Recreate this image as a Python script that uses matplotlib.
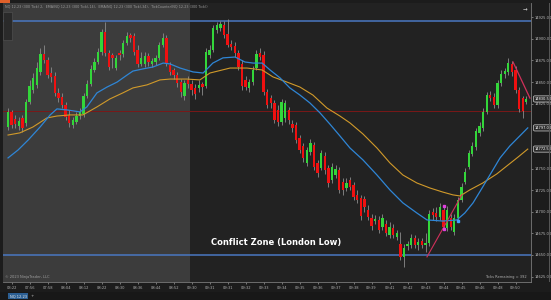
import matplotlib
matplotlib.use("Agg")
import matplotlib.pyplot as plt
from matplotlib.ticker import FixedLocator, FuncFormatter
from matplotlib.patches import Rectangle

# ---------------- data ----------------
opens = [14798, 14815.5, 14807.25, 14799.25, 14808.5, 14802.75, 14827, 14840.75, 14846.75, 14861.75,
         14882.5, 14875.5, 14860.5, 14857, 14837.5, 14832.75, 14823.5, 14812, 14800.5, 14803.75,
         14810.75, 14813, 14834, 14847.75, 14864, 14873.25, 14884.75, 14908, 14883.75, 14881.25,
         14866.25, 14883.75, 14882.5, 14895.25, 14904.5, 14903.25, 14887.25, 14871, 14871, 14880.25,
         14871, 14873.25, 14878, 14893, 14901, 14869.75, 14864, 14858.25, 14850, 14834,
         14852.5, 14847.75, 14843.25, 14843.25, 14847.75, 14845.5, 14881.25, 14887.25, 14910.25, 14912.5,
         14916, 14905.75, 14894, 14891.75, 14883.75, 14871, 14852.5, 14843.25, 14850, 14866.25,
         14883.75, 14881.25, 14838.5, 14831.5, 14825.75, 14817.75, 14803.75, 14808.5, 14817.75, 14801.5,
         14800.5, 14785.25, 14776, 14756.5, 14769.25, 14777.25, 14756.5, 14750.5, 14764.5, 14750.5,
         14736.75, 14742.5, 14748.25, 14734.5, 14727.5, 14736.75, 14731, 14719.5, 14716, 14714.75,
         14702, 14692.75, 14689.25, 14690.5, 14682.25, 14685.75, 14673, 14681.25, 14670.75, 14662.75,
         14647.75, 14660.5, 14661.5, 14669.75, 14661.5, 14666.25, 14661.5, 14663.75, 14699.75, 14698.5,
         14694, 14702, 14681.25, 14692.75, 14676.5, 14692.75, 14713.5, 14734.5, 14751.75, 14766.75,
         14775, 14791.25, 14797, 14815.5, 14835, 14832.75, 14823.5, 14849, 14859.5, 14861.75,
         14871, 14864, 14840.75, 14831.5, 14827]
highs = [14820, 14817.75, 14812, 14809.75, 14812, 14830.5, 14852.5, 14860.5, 14873.25, 14889.5,
         14893, 14879, 14867.5, 14861.75, 14843.25, 14837.5, 14827, 14817.75, 14809.75, 14815.5,
         14820, 14837.5, 14852.5, 14869.75, 14878, 14889.5, 14911.5, 14919.5, 14887.25, 14883.75,
         14881.25, 14887.25, 14898.75, 14908, 14906.75, 14906.75, 14893, 14884.75, 14884.75, 14883.75,
         14878, 14881.25, 14896.5, 14906.75, 14904.5, 14873.25, 14866.25, 14861.75, 14853.5, 14852.5,
         14857, 14852.5, 14847.75, 14852.5, 14850, 14889.5, 14893, 14916, 14919.5, 14920.75,
         14920.75, 14923, 14898.75, 14896.5, 14887.25, 14875.5, 14857, 14853.5, 14868.75, 14887.25,
         14889.5, 14886, 14842, 14835, 14829.25, 14823.5, 14830.5, 14829.25, 14821.25, 14806.25,
         14803.75, 14788.75, 14779.5, 14775, 14784.25, 14780.75, 14760, 14771.5, 14769.25, 14754,
         14756.5, 14754, 14751.75, 14739, 14739, 14740.25, 14734.5, 14725.25, 14719.5, 14718.25,
         14707.75, 14697.5, 14696.25, 14695, 14697.5, 14690.5, 14688.25, 14685.75, 14679, 14676.5,
         14662.75, 14666.25, 14674.25, 14673, 14669.75, 14669.75, 14675.5, 14702, 14704.25, 14705.5,
         14710.25, 14707.75, 14706.75, 14697.5, 14697.5, 14717, 14733.25, 14750.5, 14771.5, 14780.75,
         14797, 14803.75, 14820, 14838.5, 14839.75, 14837.5, 14852.5, 14864, 14866.25, 14878,
         14874.5, 14868.75, 14844.25, 14834, 14834]
lows = [14794.5, 14797, 14797, 14794.5, 14792.25, 14799.25, 14824.75, 14837.5, 14843.25, 14858.25,
        14872, 14854.75, 14850, 14834, 14827, 14820, 14806.25, 14798, 14797, 14801.5,
        14807.25, 14809.75, 14831.5, 14845.5, 14861.75, 14871, 14881.25, 14880.25, 14864, 14866.25,
        14864, 14875.5, 14879, 14893, 14896.5, 14881.25, 14867.5, 14868.75, 14867.5, 14868.75,
        14867.5, 14869.75, 14875.5, 14890.5, 14868.75, 14858.25, 14853.5, 14844.25, 14832.75, 14829.25,
        14843.25, 14835, 14830.5, 14838.5, 14835, 14843.25, 14878, 14884.75, 14906.75, 14909.25,
        14901, 14890.5, 14887.25, 14879, 14864, 14840.75, 14840.75, 14838.5, 14846.75, 14864,
        14875.5, 14835, 14820, 14820, 14802.75, 14799.25, 14800.5, 14803.75, 14801.5, 14792.25,
        14779.5, 14768, 14757.5, 14753, 14765.75, 14748.25, 14740.25, 14748.25, 14743.75, 14728.75,
        14733.25, 14739, 14721.75, 14719.5, 14724, 14725.25, 14713.5, 14710.25, 14690.5, 14699.75,
        14690.5, 14679, 14685.75, 14675.5, 14679, 14672, 14669.75, 14669.75, 14667.25, 14644.25,
        14636, 14655.75, 14658, 14658, 14655.75, 14658, 14653.5, 14660.5, 14690.5, 14689.25,
        14690.5, 14679, 14677.75, 14679, 14673, 14689.25, 14711.25, 14732, 14749.5, 14764.5,
        14771.5, 14787.75, 14793.5, 14813, 14828.25, 14820, 14820, 14845.5, 14854.75, 14858.25,
        14857, 14837.5, 14815.5, 14808.5, 14824.75]
closes = [14815.5, 14800.5, 14801.5, 14805, 14797, 14827, 14845.5, 14854.75, 14866.25, 14882.5,
          14875.5, 14858.25, 14856, 14837.5, 14831.5, 14823.5, 14809.75, 14802.75, 14806.25, 14810.75,
          14815.5, 14834, 14847.75, 14865.25, 14873.25, 14884.75, 14908, 14883.75, 14867.5, 14878,
          14878, 14881.25, 14895.25, 14903.25, 14901, 14884.75, 14871, 14878, 14880.25, 14873.25,
          14874.5, 14878, 14893, 14901, 14872, 14861.75, 14858.25, 14849, 14838.5, 14849,
          14847.75, 14840.75, 14836.25, 14846.75, 14844.25, 14884.75, 14887.25, 14912.5, 14916, 14917.25,
          14904.5, 14893, 14890.5, 14883.75, 14867.5, 14845.5, 14844.25, 14850, 14864, 14882.5,
          14879, 14838.5, 14823.5, 14825.75, 14806.25, 14803.75, 14827, 14825.75, 14806.25, 14797,
          14783, 14771.5, 14762.25, 14771.5, 14779.5, 14751.75, 14744.75, 14768, 14748.25, 14733.25,
          14751.75, 14749.5, 14725.25, 14725.25, 14733.25, 14728.75, 14717, 14713.5, 14695, 14705.5,
          14694, 14683.5, 14691.5, 14679, 14692.75, 14675.5, 14682.25, 14673, 14675.5, 14647.75,
          14658, 14662.75, 14669.75, 14661.5, 14665, 14661.5, 14663.75, 14697.5, 14696.25, 14694,
          14705.5, 14682.25, 14702, 14682.25, 14692.75, 14713.5, 14728.75, 14746, 14768, 14776,
          14793.5, 14799.25, 14815.5, 14835, 14831.5, 14823.5, 14849, 14859.5, 14862.75, 14872,
          14861.75, 14840.75, 14819, 14816.5, 14830.5]

# moving averages, sampled along the picture: (bar, value)
ema_fast_bar = [0, 2.8, 5.6, 8.9, 11.7, 13.6, 16.4, 20, 21.9, 24.7, 27.5, 30.3, 33.1, 34.7, 37.5, 40.3,
                43.1, 45, 47.8, 51.4, 54.2, 56.9, 59.7, 63.1, 65.8, 68.1, 70.6, 72.8, 75.6, 78.3, 81.1,
                83.9, 86.7, 89.4, 92.2, 95, 98.6, 102.5, 106.1, 109.7, 113.6, 116.4, 120.8, 124.7,
                126.9, 129.2, 131.9, 134.7, 136.7, 139.4, 142.2, 144.4]
ema_fast_val = [14762.25, 14771.5, 14783, 14798, 14812, 14819, 14817.75, 14815.5, 14821.25, 14837.5,
                14844.25, 14850, 14858.25, 14862.75, 14865.25, 14867.5, 14872, 14871, 14866.25,
                14861.75, 14860.5, 14872, 14878, 14879, 14873.25, 14872, 14872, 14864, 14854.75,
                14843.25, 14835, 14825.75, 14814.25, 14801.5, 14787.75, 14773.75, 14760, 14742.5,
                14725.25, 14710.25, 14698.5, 14690.5, 14689.25, 14690.5, 14698.5, 14710.25,
                14728.75, 14748.25, 14762.25, 14776, 14787.75, 14797]
ema_slow_bar = [0, 3.3, 6.9, 10.8, 13.6, 17.2, 20.8, 24.7, 28.3, 31.9, 34.7, 38.6, 42.2, 45, 49.7,
                53.3, 56.1, 61.7, 66.4, 70.6, 73.6, 77.5, 81.1, 84.7, 88.6, 92.2, 95, 98.6, 102.5,
                106.1, 109.7, 113.6, 117.2, 120.8, 123.6, 125.6, 128.3, 131.9, 135.8, 138.6, 141.7, 144.4]
ema_slow_val = [14788.75, 14791.25, 14798, 14808.5, 14810.75, 14812, 14812, 14821.25, 14830.5,
                14837.5, 14843.25, 14846.75, 14852.5, 14853.5, 14853.5, 14852.5, 14860.5, 14866.25,
                14866.25, 14864, 14856, 14850, 14844.25, 14835, 14820, 14810.75, 14802.75, 14790,
                14773.75, 14756.5, 14742.5, 14733.25, 14727.5, 14722.75, 14719.5, 14718.25, 14725.25,
                14733.25, 14743.75, 14753, 14763.25, 14772.5]

high_line = 14920.75
london_low = 14650.0
prior_line = 14816.5
last_price = 14830.50
ema_fast_last = 14797.00
ema_slow_last = 14772.50

trend1 = ([116.4, 126.1], [14647.75, 14719.5])
trend2 = ([140.3, 145.0], [14873.25, 14831.5])

# labels 14800 and 14775 sit behind the value boxes in the reference
price_ticks = [14925, 14900, 14875, 14850, 14825, 14750, 14725, 14700, 14675, 14650, 14625]
time_labels = ["03:22", "07:56", "07:58", "08:04", "08:12", "08:22", "08:30", "08:36", "08:44", "08:52",
               "09:30", "09:31", "09:31", "09:32", "09:33", "09:34", "09:35", "09:36", "09:37", "09:38",
               "09:39", "09:41", "09:42", "09:43", "09:44", "09:45", "09:46", "09:48", "09:50"]
premarket_end = 50.5

# ---------------- drawing ----------------
W, H = 551, 300
fig = plt.figure(figsize=(W / 100, H / 100), dpi=100, facecolor="#1c1c1c")
ax = fig.add_axes([3 / W, 18 / H, 528 / W, 279 / H])
ax.set_facecolor("#222222")

n = len(closes)
xs = list(range(n))
up = "#33d63a"
dn = "#f01010"
for i in xs:
    o, h, l, c = opens[i], highs[i], lows[i], closes[i]
    ax.vlines(i, l, h, color="#8c8c8c", lw=0.6, zorder=3)
    col = up if c >= o else dn
    ax.bar(i, c - o, bottom=o, width=0.64, color=col, lw=0, zorder=4)

ax.axvspan(-2, premarket_end, color="white", alpha=0.12, lw=0, zorder=1)

ax.axhline(high_line, color="#4a78c2", lw=1.1, zorder=2)
ax.axhline(london_low, color="#4a78c2", lw=1.1, zorder=2)
ax.axhline(prior_line, color="#7a1818", lw=0.7, zorder=2)

ax.plot(ema_slow_bar, ema_slow_val, color="#d19a2a", lw=0.8, zorder=5)
ax.plot(ema_fast_bar, ema_fast_val, color="#2f86d6", lw=0.9, zorder=5)

ax.plot(trend1[0], trend1[1], color="#d0305a", lw=0.8, zorder=6)
ax.plot(trend2[0], trend2[1], color="#d0305a", lw=0.9, zorder=6)
ax.plot([121, 121], [14706.75, 14680], ls="none", marker="s", ms=1.6, color="#e040e0", zorder=7)
ax.plot([125], [14689.25], ls="none", marker="s", ms=1.6, color="#40a0ff", zorder=7)

ax.set_xlim(-1.4, 145.3)
ax.set_ylim(14618.7, 14941.5)

ax.yaxis.tick_right()
ax.yaxis.set_major_locator(FixedLocator(price_ticks))
ax.yaxis.set_major_formatter(FuncFormatter(lambda v, p: f"{v:.2f}"))
ax.tick_params(axis="y", colors="#9a9a9a", labelcolor="#b8b8b8", labelsize=2.6, length=1.5, width=0.5, pad=1)
tick_pos = [1 + 5 * k for k in range(len(time_labels))]
ax.set_xticks(tick_pos)
ax.set_xticklabels(time_labels)
ax.tick_params(axis="x", colors="#9a9a9a", labelcolor="#b0b0b0", labelsize=2.6, length=1.5, width=0.5, pad=1.5)
for s in ["top", "left"]:
    ax.spines[s].set_visible(False)
for s in ["right", "bottom"]:
    ax.spines[s].set_color("#7a7a7a")
    ax.spines[s].set_linewidth(0.6)

def value_box(val, txt_col="#ffffff", ec="#cfcfcf"):
    ax.annotate(f"{val:.2f}", xy=(1.0, val), xycoords=("axes fraction", "data"),
                xytext=(2.5, 0), textcoords="offset points", va="center", ha="left",
                fontsize=2.6, color=txt_col, zorder=10, annotation_clip=False,
                bbox=dict(boxstyle="round,pad=0.3,rounding_size=0.4", fc="#2b2b2b", ec=ec, lw=0.5))

value_box(last_price)
value_box(ema_fast_last)
value_box(ema_slow_last)

# chart texts
fig.text(276 / W, 1 - 243 / H, "Conflict Zone (London Low)", color="white", fontsize=6,
         fontweight="bold", ha="center", va="center")
fig.text(5 / W, 1 - 277 / H, "© 2023 NinjaTrader, LLC", color="#a0a0a0", fontsize=2.6, ha="left", va="center")
fig.text(527 / W, 1 - 277 / H, "Ticks Remaining = 392", color="#b0b0b0", fontsize=2.6, ha="right", va="center")
fig.text(5 / W, 1 - 6 / H,
         "NQ 12-23 (300 Tick) 2,  EMA(NQ 12-23 (300 Tick),14),  EMA(NQ 12-23 (300 Tick),34),  TickCounter(NQ 12-23 (300 Tick))",
         color="#9a9a9a", fontsize=2.4, ha="left", va="center")
fig.text(525 / W, 1 - 9 / H, "→", color="#d0d0d0", fontsize=4, ha="center", va="center")

# window chrome
fig.patches.append(Rectangle((0, 1 - 2.5 / H), 10 / W, 2.5 / H, transform=fig.transFigure, fc="#e0602a", lw=0))
fig.patches.append(Rectangle((3 / W, 1 - 40 / H), 9 / W, 28 / H, transform=fig.transFigure,
                             fc="#2a2a2a", ec="#555555", lw=0.4, zorder=5))
fig.patches.append(Rectangle((549 / W, 18 / H), 0.6 / W, 279 / H, transform=fig.transFigure, fc="#555555", lw=0))
fig.patches.append(Rectangle((0, 0), 1, 8 / H, transform=fig.transFigure, fc="#181818", lw=0))
fig.text(18 / W, 4 / H, "NQ 12-23", color="#e8e8e8", fontsize=2.6, ha="center", va="center",
         bbox=dict(boxstyle="square,pad=0.4", fc="#2c5f93", ec="none"))
fig.text(32 / W, 4 / H, "+", color="#bbbbbb", fontsize=3, ha="center", va="center")

fig.savefig("out.png", dpi=100, facecolor=fig.get_facecolor())
